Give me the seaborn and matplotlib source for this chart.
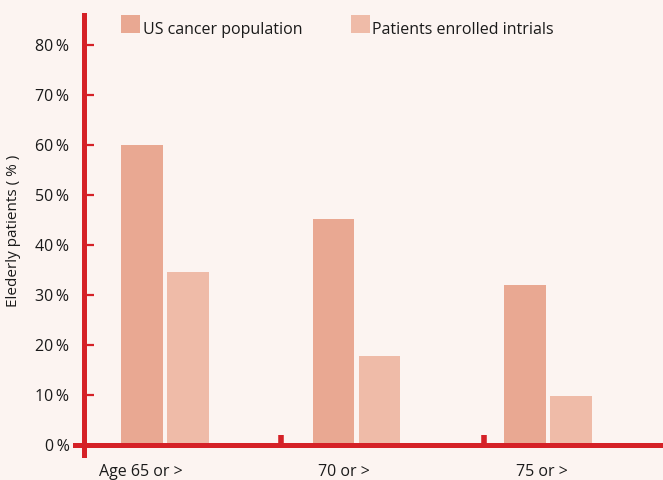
import matplotlib
matplotlib.use("Agg")
import matplotlib.pyplot as plt
import matplotlib.transforms as mtransforms
import seaborn as sns
import pandas as pd

# Age groups and the share of elderly patients in each population
categories = ["Age 65 or >", "70 or >", "75 or >"]
series_names = ["US cancer population", "Patients enrolled intrials"]
us_population = [60, 45.3, 32]
trial_patients = [34.6, 17.8, 9.8]
y_ticks = [0, 10, 20, 30, 40, 50, 60, 70, 80]
y_tick_labels = [f"{v}\u2009%" for v in y_ticks]

df = pd.DataFrame({
    "group": categories * 2,
    "series": [series_names[0]] * 3 + [series_names[1]] * 3,
    "value": us_population + trial_patients,
})

RED = "#D52127"
BG = "#FCF4F1"
TXT = "#1A1A1A"
palette = {series_names[0]: "#E9A892", series_names[1]: "#EFBBA8"}

sns.set_theme(style="white")
plt.rcParams["font.family"] = ["Open Sans", "DejaVu Sans"]

fig = plt.figure(figsize=(6.63, 4.80), dpi=100, facecolor=BG)
ax = fig.add_axes([75 / 663, 1 - 455 / 480, 588 / 663, 440 / 480])
ax.set_facecolor(BG)

sns.barplot(data=df, x="group", y="value", hue="series", order=categories,
            hue_order=series_names, palette=palette, width=0.48, gap=0.09,
            saturation=1, linewidth=0, ax=ax, legend=True)

ax.set_ylim(-2, 86)
ax.set_xlim(-0.47, 2.60)

# Axis lines
for side in ["top", "right"]:
    ax.spines[side].set_visible(False)
ax.spines["left"].set_position(("axes", 9 / 588))
ax.spines["bottom"].set_position(("data", 0))
for side in ["left", "bottom"]:
    ax.spines[side].set_color(RED)
    ax.spines[side].set_linewidth(3.6)
    ax.spines[side].set_zorder(5)

ax.set_yticks(y_ticks)
ax.set_yticklabels(y_tick_labels)
ax.tick_params(axis="y", direction="in", length=7, width=1.6, color=RED,
               pad=10.5, labelsize=11.5, labelcolor=TXT, left=True)

# Category labels under the axis, with separator notches between groups
ax.set_xticks(range(len(categories)))
ax.set_xticklabels(categories)
ax.tick_params(axis="x", which="major", length=0, pad=14, labelsize=11.5,
               labelcolor=TXT)
ax.set_xticks([0.605, 1.665], minor=True)
ax.tick_params(axis="x", which="minor", direction="in", length=7.5,
               width=4, color=RED, bottom=True)
shifts = [-24, -13, -6]
for lab, dx in zip(ax.get_xticklabels(), shifts):
    lab.set_transform(lab.get_transform() +
                      mtransforms.ScaledTranslation(dx / 100, 0, fig.dpi_scale_trans))

ax.set_xlabel("")
ax.set_ylabel("Elederly patients ( % )", fontsize=11, color=TXT)
ax.yaxis.set_label_coords(-0.092, (455 - 231) / 440)

ax.get_legend().remove()
handles, labels = ax.get_legend_handles_labels()
leg = fig.legend(handles, labels, loc="upper left",
                 bbox_to_anchor=(121 / 663, 1 - 15 / 480), ncol=2, frameon=False,
                 fontsize=11.5, handlelength=1.2, handleheight=1.4,
                 handletextpad=0.15, columnspacing=3.05, borderpad=0,
                 borderaxespad=0, labelcolor=TXT)
# Legend captions sit a little lower than their swatches
for t in leg.get_texts():
    t.set_transform(t.get_transform() +
                    mtransforms.ScaledTranslation(0, -0.04, fig.dpi_scale_trans))

fig.savefig("out.png", dpi=100, facecolor=BG)
